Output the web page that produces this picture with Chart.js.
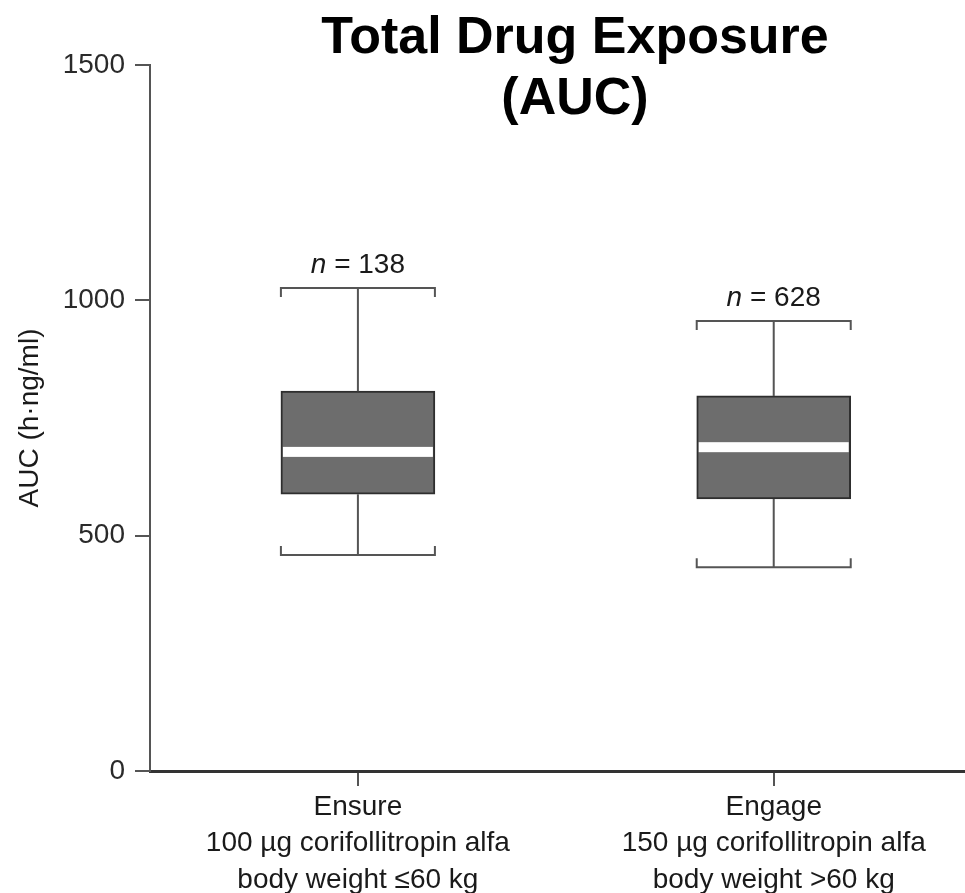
<!DOCTYPE html>
<html><head><meta charset="utf-8">
<script src="https://cdn.jsdelivr.net/npm/chart.js@4.4.0/dist/chart.umd.min.js"></script>
<style>html,body{margin:0;padding:0;background:#fff}#wrap{width:965px;height:893px}</style>
</head><body><div id="wrap"><canvas id="c" width="965" height="893"></canvas></div>
<script>
const categories = [
  ["Ensure", "100 µg corifollitropin alfa", "body weight ≤60 kg"],
  ["Engage", "150 µg corifollitropin alfa", "body weight >60 kg"]
];
const positions = [0.5, 1.5];
const whiskerLow = [459, 433];
const q1 = [588, 578];
const median = [678, 688];
const q3 = [807, 797];
const whiskerHigh = [1026, 956];
const nValues = [138, 628];
const yTicks = [0, 500, 1000, 1500];
const titleLines = ["Total Drug Exposure", "(AUC)"];
const yTitle = "AUC (h·ng/ml)";

const FONT = '"Liberation Sans", Arial, Helvetica, sans-serif';
Chart.defaults.font.family = FONT;

const boxPlugin = {
  id: 'boxExtras',
  afterDatasetsDraw(chart) {
    const ctx = chart.ctx;
    const ys = chart.scales.y;
    const meta = chart.getDatasetMeta(0);
    meta.data.forEach((bar, i) => {
      const cx = bar.x, half = bar.width / 2;
      const yHi = ys.getPixelForValue(whiskerHigh[i]);
      const yLo = ys.getPixelForValue(whiskerLow[i]);
      const yQ1 = ys.getPixelForValue(q1[i]);
      const yQ3 = ys.getPixelForValue(q3[i]);
      const yMed = ys.getPixelForValue(median[i]);
      ctx.save();
      ctx.strokeStyle = '#555';
      ctx.lineWidth = 2;
      ctx.beginPath();
      ctx.moveTo(cx, yQ3); ctx.lineTo(cx, yHi);
      ctx.moveTo(cx - half, yHi + 9); ctx.lineTo(cx - half, yHi); ctx.lineTo(cx + half, yHi); ctx.lineTo(cx + half, yHi + 9);
      ctx.moveTo(cx, yQ1); ctx.lineTo(cx, yLo);
      ctx.moveTo(cx - half, yLo - 9); ctx.lineTo(cx - half, yLo); ctx.lineTo(cx + half, yLo); ctx.lineTo(cx + half, yLo - 9);
      ctx.stroke();
      ctx.fillStyle = '#ffffff';
      ctx.fillRect(cx - half + 2, yMed - 5, 2 * half - 4, 10);
      // n label
      const italic = 'italic 28px ' + FONT;
      const normal = '28px ' + FONT;
      const rest = ' = ' + nValues[i];
      ctx.font = italic; const w1 = ctx.measureText('n').width;
      ctx.font = normal; const w2 = ctx.measureText(rest).width;
      const x0 = cx - (w1 + w2) / 2;
      ctx.fillStyle = '#1a1a1a';
      ctx.textBaseline = 'alphabetic';
      ctx.textAlign = 'left';
      ctx.font = italic; ctx.fillText('n', x0, yHi - 15);
      ctx.font = normal; ctx.fillText(rest, x0 + w1, yHi - 15);
      ctx.restore();
    });
  },
  afterDraw(chart) {
    const ctx = chart.ctx;
    ctx.save();
    ctx.font = 'bold 52px ' + FONT;
    ctx.fillStyle = '#000';
    ctx.textAlign = 'center';
    ctx.textBaseline = 'alphabetic';
    ctx.fillText(titleLines[0], 575, 53);
    ctx.fillText(titleLines[1], 575, 114);
    ctx.restore();
  }
};

new Chart(document.getElementById('c'), {
  type: 'bar',
  data: {
    datasets: [{
      data: positions.map((x, i) => ({ x: x, y: [q1[i], q3[i]] })),
      backgroundColor: '#6d6d6d',
      borderColor: '#2e2e2e',
      borderWidth: 2,
      borderSkipped: false,
      barThickness: 154
    }]
  },
  options: {
    responsive: false,
    animation: false,
    devicePixelRatio: 1,
    layout: { padding: { top: 65, right: 0, left: 0, bottom: 0 } },
    plugins: { legend: { display: false }, tooltip: { enabled: false }, title: { display: false } },
    scales: {
      x: {
        type: 'linear',
        min: 0, max: 1.96,
        offset: false,
        afterBuildTicks: s => { s.ticks = positions.map(v => ({ value: v })); },
        afterFit: s => { s.height = 122; },
        ticks: {
          callback: (v, i) => categories[i],
          font: { size: 28, lineHeight: 1.3 },
          color: '#1a1a1a',
          padding: 3,
          autoSkip: false,
          maxRotation: 0
        },
        grid: { display: true, offset: false, drawOnChartArea: false, tickLength: 15, color: '#555', lineWidth: 2 },
        border: { display: true, color: '#333', width: 3 }
      },
      y: {
        type: 'linear',
        min: 0, max: 1500,
        afterBuildTicks: s => { s.ticks = yTicks.map(v => ({ value: v })); },
        afterFit: s => { s.width = 150; },
        ticks: { callback: v => String(v), font: { size: 28 }, color: '#2a2a2a', padding: 10 },
        grid: { display: true, drawOnChartArea: false, tickLength: 15, color: '#555', lineWidth: 2 },
        border: { display: true, color: '#555', width: 2 },
        title: { display: true, text: yTitle, font: { size: 28 }, color: '#1a1a1a', padding: { top: 13, bottom: 0 } }
      }
    }
  },
  plugins: [boxPlugin]
});
</script>
</body></html>
